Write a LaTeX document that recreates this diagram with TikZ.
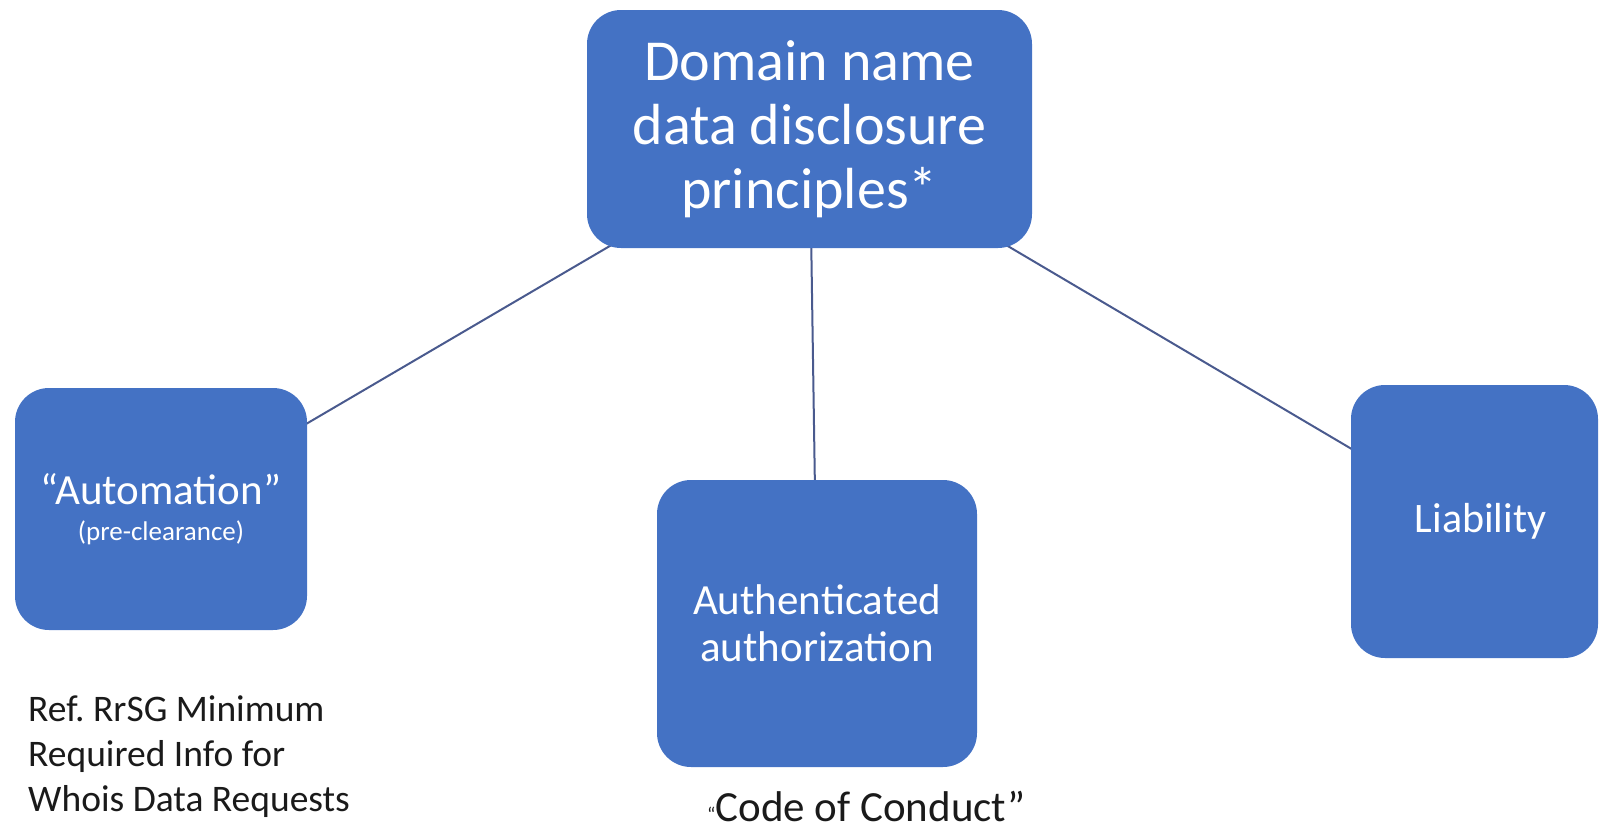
\documentclass[tikz,border=0pt]{standalone}
\usepackage{fontspec}
\setmainfont{Carlito}
\frenchspacing
\definecolor{boxblue}{HTML}{4472C4}
\definecolor{linkblue}{HTML}{4A5A8E}
\definecolor{notegray}{HTML}{1A1A1A}
\tikzset{
  pbox/.style={draw=none, fill=boxblue, rounded corners=34pt, text=white,
    align=center, inner sep=0pt},
  link/.style={draw=linkblue, line width=2pt},
  note/.style={text=notegray, inner sep=0pt, align=left}
}
\begin{document}
\begin{tikzpicture}[x=1pt, y=-1pt]
  \useasboundingbox (0,0) rectangle (1599,830);

  % connectors, drawn first so the boxes cover their ends
  \coordinate (ctop) at (809.5,129);
  \coordinate (cauto) at (161,509);
  \coordinate (cmid) at (817,623.5);
  \coordinate (cliab) at (1474.5,521.5);
  \draw[link] (ctop) -- (cauto);
  \draw[link] (ctop) -- (cmid);
  \draw[link] (ctop) -- (cliab);

  % boxes
  \node[pbox, minimum width=445pt, minimum height=238pt,
        font=\fontsize{58}{64}\selectfont] (top) at (ctop)
        {Domain name\\data disclosure\\principles*};
  \node[pbox, minimum width=292pt, minimum height=242pt,
        font=\fontsize{43}{36}\selectfont] (auto) at (cauto)
        {“Automation”\\{\fontsize{27}{36}\selectfont (pre-clearance)}};
  \node[pbox, minimum width=320pt, minimum height=287pt,
        font=\fontsize{43}{47}\selectfont] (mid) at (cmid)
        {Authenticated\\authorization};
  \node[pbox, minimum width=247pt, minimum height=273pt,
        font=\fontsize{42}{47}\selectfont] (liab) at (cliab)
        {\hspace*{12pt}Liability};

  % notes under the boxes
  \node[note, anchor=north west, font=\fontsize{37.5}{45}\selectfont] (ref)
        at (28,695)
        {Ref. RrSG Minimum\\Required Info for\\Whois Data Requests};
  \node[note, anchor=base west, font=\fontsize{43}{47}\selectfont] (coc)
        at (707,821)
        {{\fontsize{20}{20}\selectfont “}Code of Conduct”};
\end{tikzpicture}
\end{document}
